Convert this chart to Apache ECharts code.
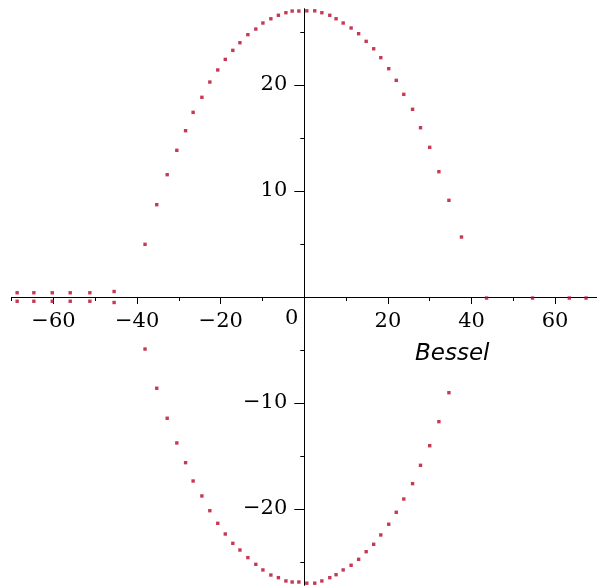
<!DOCTYPE html>
<html>
<head>
<meta charset="utf-8">
<script src="https://cdn.jsdelivr.net/npm/echarts@6/dist/echarts.min.js"></script>
<style>
  html, body { margin: 0; padding: 0; background: #fff; }
  #chart { width: 597px; height: 586px; }
</style>
</head>
<body>
<div id="chart"></div>
<script>
// Upper branch of the point plot (left to right)
const upperX = [-38.1, -35.3, -32.8, -30.5, -28.4, -26.6, -24.5, -22.6, -20.7, -18.9,
                -17.1, -15.4, -13.5, -11.6, -9.9, -8.0, -6.2, -4.4, -2.9, -1.3,
                0.6, 2.5, 4.2, 6.1, 7.6, 9.3, 11.2, 13.0, 14.8, 16.6,
                18.3, 20.2, 22.0, 23.8, 25.9, 27.8, 30.0, 32.2, 34.6, 37.6];
const upperY = [4.97, 8.71, 11.54, 13.84, 15.69, 17.42, 18.84, 20.28, 21.42, 22.42,
                23.27, 23.99, 24.75, 25.28, 25.85, 26.25, 26.58, 26.82, 26.98, 26.98,
                27.0, 27.0, 26.82, 26.58, 26.25, 25.85, 25.38, 24.84, 24.12, 23.42,
                22.58, 21.54, 20.44, 19.12, 17.71, 15.97, 14.12, 11.82, 9.12, 5.66];

// Lower branch of the point plot (left to right)
const lowerX = [-38.1, -35.3, -32.8, -30.5, -28.4, -26.6, -24.5, -22.6, -20.7, -18.9,
                -17.1, -15.4, -13.5, -11.6, -9.9, -8.0, -6.2, -4.4, -2.9, -1.3,
                0.6, 2.5, 4.2, 6.1, 7.6, 9.3, 11.2, 13.0, 14.8, 16.6,
                18.3, 20.2, 22.0, 23.8, 25.9, 27.8, 30.0, 32.2, 34.6];
const lowerY = [-4.91, -8.61, -11.44, -13.77, -15.63, -17.36, -18.77, -20.16, -21.35, -22.36,
                -23.24, -23.87, -24.59, -25.22, -25.75, -26.23, -26.48, -26.79, -26.89, -26.89,
                -27.0, -27.0, -26.79, -26.48, -26.2, -25.75, -25.31, -24.75, -24.03, -23.33,
                -22.45, -21.44, -20.31, -19.06, -17.61, -15.88, -14.03, -11.76, -9.03];

// Near-zero tails on both sides
const tailLeftX = [-68.7, -64.7, -60.3, -56.0, -51.3, -45.5];
const tailLeftUpY = [0.4, 0.4, 0.4, 0.4, 0.4, 0.52];
const tailLeftDownY = [-0.4, -0.4, -0.4, -0.4, -0.4, -0.52];
const tailRightX = [43.6, 54.6, 63.4, 67.4];
const tailRightY = [-0.1, -0.1, -0.1, -0.1];

// Axis ticks and labels
const xMajorTicks = [-60, -40, -20, 20, 40, 60];
const xMinorTicks = [-70, -50, -30, -10, 10, 30, 50, 70];
const xLabels = [-60, -40, -20, 0, 20, 40, 60];
const yMajorTicks = [-20, -10, 10, 20];
const yMinorTicks = [-25, -15, -5, 5, 15, 25];
const yLabels = [-20, -10, 10, 20];
const xTitle = 'Bessel';

const X_MIN = -70, X_MAX = 70, Y_MIN = -27.2, Y_MAX = 27.2;

const zip = (xs, ys) => xs.map((x, i) => [x, ys[i]]);
const points = [].concat(
  zip(upperX, upperY),
  zip(lowerX, lowerY),
  zip(tailLeftX, tailLeftUpY),
  zip(tailLeftX, tailLeftDownY),
  zip(tailRightX, tailRightY)
);

const minus = v => String(v).replace('-', '\u2212');
const serif = '"DejaVu Serif", "Liberation Serif", serif';
const axisColor = '#000';

// Plot box and the shift that carries each axis from the box edge onto the origin
const W = 597, H = 586;
const box = { left: 11.7, right: 0.1, top: 8.7, bottom: 0.7 };
const boxW = W - box.left - box.right, boxH = H - box.top - box.bottom;
const xAxisShift = -boxH * (0 - Y_MIN) / (Y_MAX - Y_MIN);
const yAxisShift = -boxW * (0 - X_MIN) / (X_MAX - X_MIN);

const chart = echarts.init(document.getElementById('chart'), null, { renderer: 'canvas' });
chart.setOption({
  backgroundColor: '#fff',
  animation: false,
  grid: Object.assign({ containLabel: false, outerBoundsMode: 'none' }, box),
  title: {
    text: xTitle,
    left: 410, top: 338,
    textStyle: {
      fontFamily: '"DejaVu Sans", sans-serif',
      fontStyle: 'italic', fontWeight: 'normal',
      fontSize: 23, color: '#000'
    }
  },
  xAxis: [
    {
      type: 'value', min: X_MIN, max: X_MAX, position: 'bottom', offset: xAxisShift,
      axisLine: { onZero: false, lineStyle: { color: axisColor, width: 1 } },
      axisTick: { show: true, customValues: xMajorTicks, length: 7, lineStyle: { color: axisColor } },
      axisLabel: {
        show: true, customValues: xLabels, margin: 10,
        fontFamily: serif, fontSize: 21, color: '#000', lineHeight: 30,
        formatter: v => v === 0 ? '{z|0}' : minus(v),
        rich: { z: { fontFamily: serif, fontSize: 21, color: '#000', lineHeight: 24, padding: [0, 25, 0, 0] } }
      },
      splitLine: { show: false }
    },
    {
      type: 'value', min: X_MIN, max: X_MAX, position: 'bottom', offset: xAxisShift,
      axisLine: { show: false, onZero: false },
      axisTick: { show: true, customValues: xMinorTicks, length: 4, lineStyle: { color: axisColor } },
      axisLabel: { show: false },
      splitLine: { show: false }
    }
  ],
  yAxis: [
    {
      type: 'value', min: Y_MIN, max: Y_MAX, position: 'left', offset: yAxisShift,
      axisLine: { onZero: false, lineStyle: { color: axisColor, width: 1 } },
      axisTick: { show: true, customValues: yMajorTicks, length: 10, lineStyle: { color: axisColor } },
      axisLabel: {
        show: true, customValues: yLabels, margin: 17,
        fontFamily: serif, fontSize: 21, color: '#000',
        formatter: v => minus(v)
      },
      splitLine: { show: false }
    },
    {
      type: 'value', min: Y_MIN, max: Y_MAX, position: 'left', offset: yAxisShift,
      axisLine: { show: false, onZero: false },
      axisTick: { show: true, customValues: yMinorTicks, length: 4, lineStyle: { color: axisColor } },
      axisLabel: { show: false },
      splitLine: { show: false }
    }
  ],
  series: [{
    type: 'scatter',
    xAxisIndex: 0, yAxisIndex: 0,
    symbol: 'rect', symbolSize: 3.4,
    itemStyle: { color: '#b8082a' },
    data: points
  }]
});
</script>
</body>
</html>
